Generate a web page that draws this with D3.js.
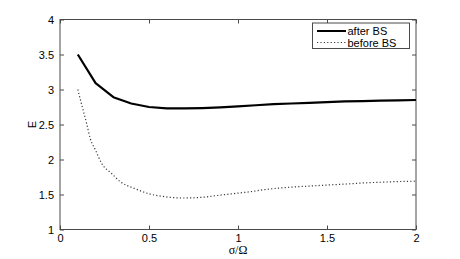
<!DOCTYPE html>
<html><head><meta charset="utf-8">
<script src="https://cdn.jsdelivr.net/npm/d3@7"></script>
<style>body{margin:0;background:#fff;} svg{display:block;font-family:"Liberation Sans",Arial,sans-serif;}</style>
</head><body>
<svg id="c" width="460" height="259"></svg>
<script>
const afterX = [0.1,0.2,0.3,0.4,0.5,0.6,0.7,0.8,0.9,1.0,1.1,1.2,1.3,1.4,1.5,1.6,1.7,1.8,1.9,2.0];
const afterY = [3.5,3.09,2.89,2.8,2.75,2.73,2.73,2.735,2.745,2.76,2.775,2.79,2.8,2.81,2.82,2.83,2.835,2.84,2.845,2.85];
const beforeX = [0.1,0.12,0.15,0.17,0.2,0.235,0.29,0.34,0.42,0.5,0.57,0.69,0.8,0.88,1.0,1.07,1.15,1.27,1.4,1.5,1.61,1.7,1.8,1.9,2.0];
const beforeY = [3.0,2.8,2.51,2.3,2.13,1.94,1.8,1.68,1.585,1.51,1.475,1.45,1.46,1.485,1.52,1.54,1.57,1.6,1.62,1.635,1.65,1.665,1.675,1.685,1.69];
const xTicks = [0,0.5,1,1.5,2];
const yTicks = [1,1.5,2,2.5,3,3.5,4];
const xLabels = ["0","0.5","1","1.5","2"];
const yLabels = ["1","1.5","2","2.5","3","3.5","4"];
const seriesNames = ["after BS","before BS"];

const svg = d3.select("#c");
const L=60,R=416,T=19.5,B=229.5;
const x = d3.scaleLinear().domain([0,2]).range([L,R]);
const y = d3.scaleLinear().domain([1,4]).range([B,T]);
const axisColor="#4a4a4a";

const g = svg.append("g");
g.append("rect").attr("x",L).attr("y",T).attr("width",R-L).attr("height",B-T)
 .attr("fill","none").attr("stroke",axisColor).attr("stroke-width",1);

function styleAxis(sel){
  sel.select(".domain").remove();
  sel.selectAll("line").attr("stroke",axisColor);
  sel.selectAll("text").attr("fill","#000").style("font-size","11px").style("font-family","Liberation Sans, Arial, sans-serif");
}
g.append("g").attr("transform",`translate(0,${B})`)
 .call(d3.axisBottom(x).tickValues(xTicks).tickFormat((d,i)=>xLabels[i]).tickSizeInner(-4).tickPadding(5)).call(styleAxis);
g.append("g").attr("transform",`translate(0,${T})`)
 .call(d3.axisTop(x).tickValues(xTicks).tickFormat("").tickSizeInner(-4)).call(styleAxis);
g.append("g").attr("transform",`translate(${L},0)`)
 .call(d3.axisLeft(y).tickValues(yTicks).tickFormat((d,i)=>yLabels[i]).tickSizeInner(-4).tickPadding(6)).call(styleAxis);
g.append("g").attr("transform",`translate(${R},0)`)
 .call(d3.axisRight(y).tickValues(yTicks).tickFormat("").tickSizeInner(-4)).call(styleAxis);

const line = d3.line().x(d=>x(d[0])).y(d=>y(d[1]));
const lineC = d3.line().x(d=>x(d[0])).y(d=>y(d[1])).curve(d3.curveMonotoneX);
const dotStyle = {stroke:"#3a3a3a", w:1.2, dash:"1.2,2.2"};
g.append("path").datum(beforeX.map((v,i)=>[v,beforeY[i]])).attr("d",lineC)
 .attr("fill","none").attr("stroke",dotStyle.stroke).attr("stroke-width",dotStyle.w).attr("stroke-dasharray",dotStyle.dash);
g.append("path").datum(afterX.map((v,i)=>[v,afterY[i]])).attr("d",line)
 .attr("fill","none").attr("stroke","#000").attr("stroke-width",2.2).attr("stroke-linejoin","round");

// legend
const lg = g.append("g");
lg.append("rect").attr("x",312.5).attr("y",23).attr("width",97).attr("height",25.5)
 .attr("fill","#fff").attr("stroke",axisColor).attr("stroke-width",1);
lg.append("line").attr("x1",317).attr("x2",346).attr("y1",31).attr("y2",31).attr("stroke","#000").attr("stroke-width",2);
lg.append("line").attr("x1",317).attr("x2",346).attr("y1",42.5).attr("y2",42.5)
 .attr("stroke",dotStyle.stroke).attr("stroke-width",dotStyle.w).attr("stroke-dasharray",dotStyle.dash);
lg.append("text").attr("x",347.5).attr("y",35).text(seriesNames[0]).style("font-size","11px");
lg.append("text").attr("x",347.5).attr("y",46.5).text(seriesNames[1]).style("font-size","11px");

// axis titles
g.append("text").attr("x",(L+R)/2).attr("y",254).attr("text-anchor","middle")
 .style("font-size","12px").style("font-family","Liberation Serif, Times New Roman, serif").text("σ/Ω");
g.append("text").attr("transform",`translate(36,${(T+B)/2}) rotate(-90)`).attr("text-anchor","middle")
 .style("font-size","11px").text("E");
</script>
</body></html>
